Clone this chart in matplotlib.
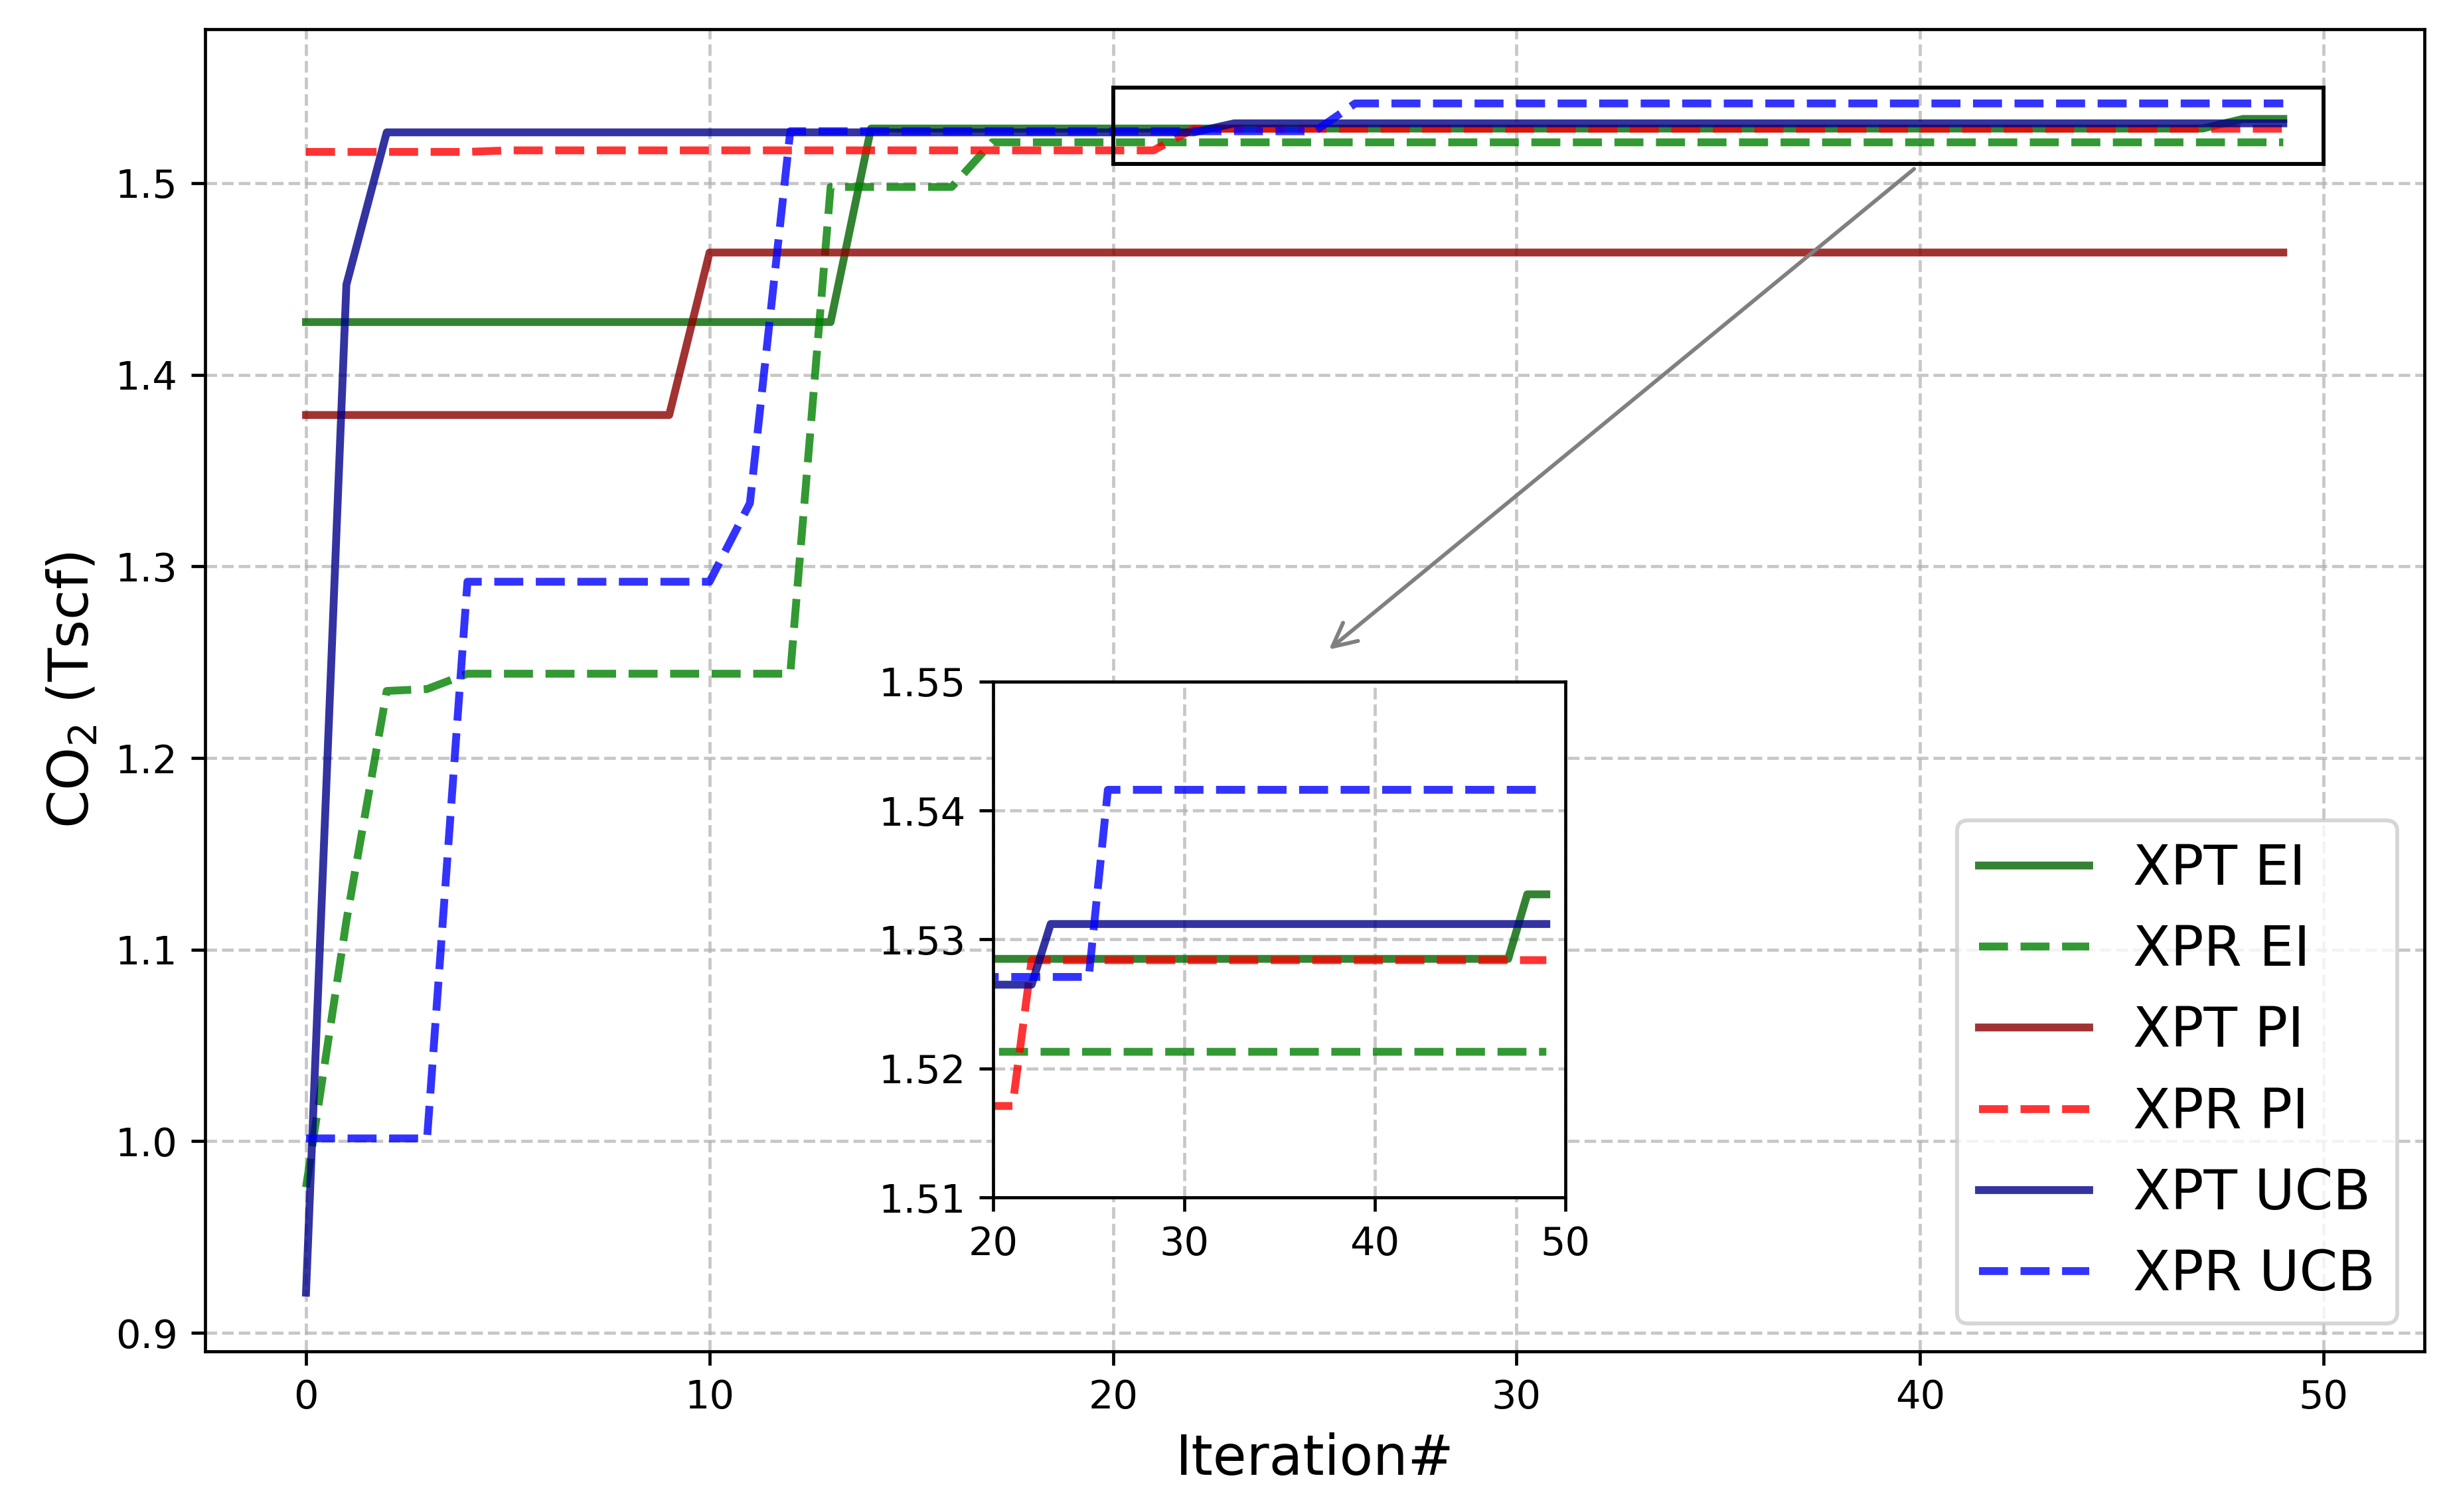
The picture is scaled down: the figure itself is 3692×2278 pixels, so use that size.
import numpy as np
import matplotlib
matplotlib.use('Agg')
import matplotlib.pyplot as plt
from matplotlib.patches import Rectangle

#########################################################################################################################################

## data

iterations = np.arange(50)

xpt_ei = [1.4275, 1.4275, 1.4275, 1.4275, 1.4275, 1.4275, 1.4275, 1.4275, 1.4275, 1.4275,
          1.4275, 1.4275, 1.4275, 1.4275, 1.5285, 1.5285, 1.5285, 1.5285, 1.5285, 1.5285,
          1.5285, 1.5285, 1.5285, 1.5285, 1.5285, 1.5285, 1.5285, 1.5285, 1.5285, 1.5285,
          1.5285, 1.5285, 1.5285, 1.5285, 1.5285, 1.5285, 1.5285, 1.5285, 1.5285, 1.5285,
          1.5285, 1.5285, 1.5285, 1.5285, 1.5285, 1.5285, 1.5285, 1.5285, 1.5335, 1.5335]

xpr_ei = [0.976, 1.115, 1.235, 1.236, 1.244, 1.244, 1.244, 1.244, 1.244, 1.244,
          1.244, 1.244, 1.244, 1.498, 1.498, 1.498, 1.498, 1.5213, 1.5213, 1.5213,
          1.5213, 1.5213, 1.5213, 1.5213, 1.5213, 1.5213, 1.5213, 1.5213, 1.5213, 1.5213,
          1.5213, 1.5213, 1.5213, 1.5213, 1.5213, 1.5213, 1.5213, 1.5213, 1.5213, 1.5213,
          1.5213, 1.5213, 1.5213, 1.5213, 1.5213, 1.5213, 1.5213, 1.5213, 1.5213, 1.5213]

xpt_pi = [1.379, 1.379, 1.379, 1.379, 1.379, 1.379, 1.379, 1.379, 1.379, 1.379,
          1.4638, 1.4638, 1.4638, 1.4638, 1.4638, 1.4638, 1.4638, 1.4638, 1.4638, 1.4638,
          1.4638, 1.4638, 1.4638, 1.4638, 1.4638, 1.4638, 1.4638, 1.4638, 1.4638, 1.4638,
          1.4638, 1.4638, 1.4638, 1.4638, 1.4638, 1.4638, 1.4638, 1.4638, 1.4638, 1.4638,
          1.4638, 1.4638, 1.4638, 1.4638, 1.4638, 1.4638, 1.4638, 1.4638, 1.4638, 1.4638]

xpr_pi = [1.5163, 1.5163, 1.5163, 1.5163, 1.5163, 1.5171, 1.5171, 1.5171, 1.5171, 1.5171,
          1.5171, 1.5171, 1.5171, 1.5171, 1.5171, 1.5171, 1.5171, 1.5171, 1.5171, 1.5171,
          1.5171, 1.5171, 1.5284, 1.5284, 1.5284, 1.5284, 1.5284, 1.5284, 1.5284, 1.5284,
          1.5284, 1.5284, 1.5284, 1.5284, 1.5284, 1.5284, 1.5284, 1.5284, 1.5284, 1.5284,
          1.5284, 1.5284, 1.5284, 1.5284, 1.5284, 1.5284, 1.5284, 1.5284, 1.5284, 1.5284]

xpt_ucb = [0.921, 1.447, 1.5265, 1.5265, 1.5265, 1.5265, 1.5265, 1.5265, 1.5265, 1.5265,
           1.5265, 1.5265, 1.5265, 1.5265, 1.5265, 1.5265, 1.5265, 1.5265, 1.5265, 1.5265,
           1.5265, 1.5265, 1.5265, 1.5312, 1.5312, 1.5312, 1.5312, 1.5312, 1.5312, 1.5312,
           1.5312, 1.5312, 1.5312, 1.5312, 1.5312, 1.5312, 1.5312, 1.5312, 1.5312, 1.5312,
           1.5312, 1.5312, 1.5312, 1.5312, 1.5312, 1.5312, 1.5312, 1.5312, 1.5312, 1.5312]

xpr_ucb = [1.0015, 1.0015, 1.0015, 1.0015, 1.292, 1.292, 1.292, 1.292, 1.292, 1.292,
           1.292, 1.333, 1.5271, 1.5271, 1.5271, 1.5271, 1.5271, 1.5271, 1.5271, 1.5271,
           1.5271, 1.5271, 1.5271, 1.5271, 1.5271, 1.5271, 1.5416, 1.5416, 1.5416, 1.5416,
           1.5416, 1.5416, 1.5416, 1.5416, 1.5416, 1.5416, 1.5416, 1.5416, 1.5416, 1.5416,
           1.5416, 1.5416, 1.5416, 1.5416, 1.5416, 1.5416, 1.5416, 1.5416, 1.5416, 1.5416]

labels = ['XPT EI', 'XPR EI', 'XPT PI', 'XPR PI', 'XPT UCB', 'XPR UCB']

# zoom window
zoom_x = (20, 50)
zoom_y = (1.51, 1.55)

#########################################################################################################################################

series = [xpt_ei, xpr_ei, xpt_pi, xpr_pi, xpt_ucb, xpr_ucb]
colors = ['darkgreen', 'green', 'darkred', 'red', 'darkblue', 'blue']
styles = ['-', '--', '-', '--', '-', '--']

fs = 14
dpi = 425
fig = plt.figure(figsize=(3692 / dpi, 2278 / dpi), dpi=dpi)
ax = fig.add_axes([0.0837, 0.1064, 0.9055, 0.8745])

for y, c, ls, lab in zip(series, colors, styles, labels):
    ax.plot(iterations, y, linestyle=ls, color=c, alpha=0.8, linewidth=2, label=lab)

ax.set_xlabel('Iteration#', fontsize=fs)
ax.set_ylabel('CO$_2$ (Tscf)', fontsize=fs)
ax.grid(True, linestyle='--', alpha=0.7)
ax.set_xlim(-2.5, 52.5)
ax.set_ylim(0.8905, 1.5805)
ax.legend(loc='lower right', fontsize=fs)

# box around zoomed region + arrow to inset
ax.add_patch(Rectangle((zoom_x[0], zoom_y[0]), zoom_x[1] - zoom_x[0], zoom_y[1] - zoom_y[0],
                       fill=False, edgecolor='black', linewidth=1.0, zorder=5))
ax.annotate('', xy=(25.2, 1.254), xytext=(40, zoom_y[0]),
            arrowprops=dict(arrowstyle='->', color='gray', lw=1, mutation_scale=15))

# inset
axins = ax.inset_axes([0.3552, 0.1161, 0.2577, 0.3904])
for y, c, ls in zip(series, colors, styles):
    axins.plot(iterations, y, linestyle=ls, color=c, alpha=0.8, linewidth=2)
axins.set_xlim(*zoom_x)
axins.set_ylim(*zoom_y)
axins.set_xticks([20, 30, 40, 50])
axins.set_yticks([1.51, 1.52, 1.53, 1.54, 1.55])
axins.grid(True, linestyle='--', alpha=0.7)

fig.savefig('out.png', dpi=dpi)
